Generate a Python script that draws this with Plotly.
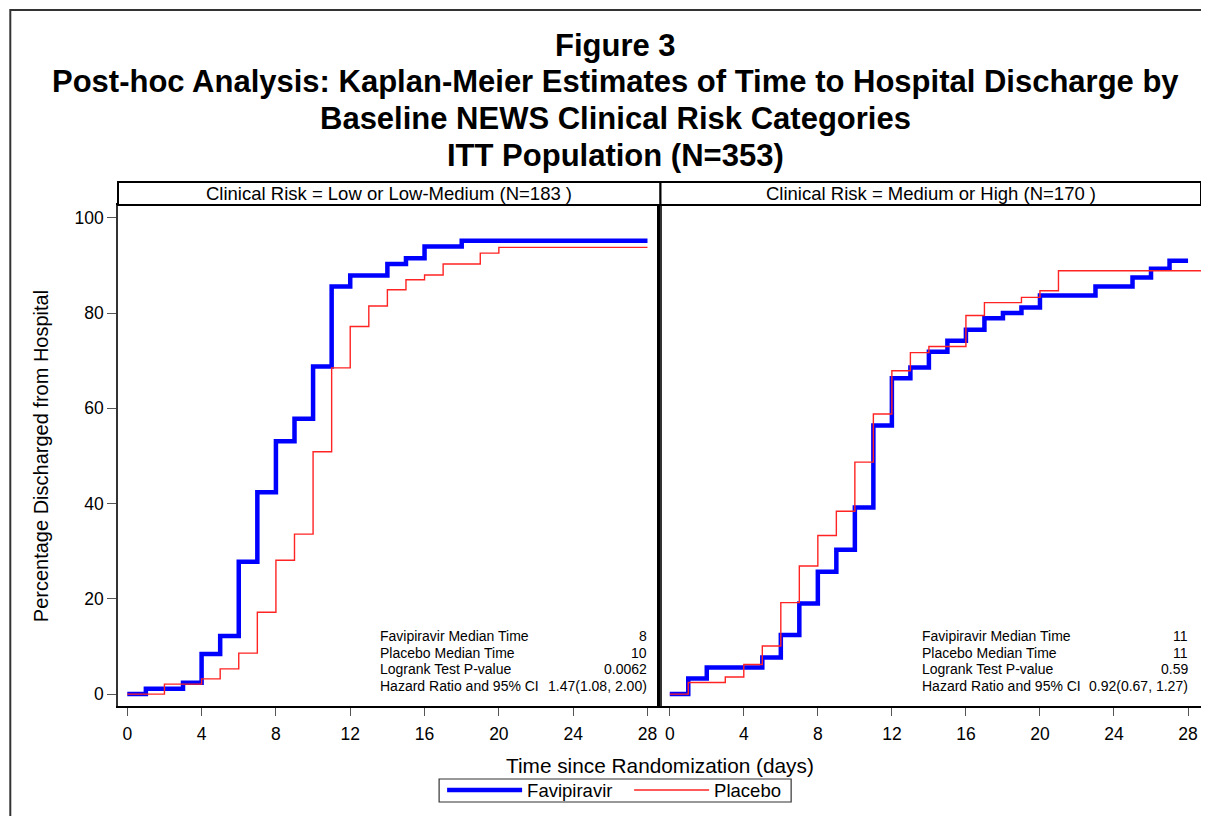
import plotly.graph_objects as go

# ---------------- data ----------------
panel_titles = ["Clinical Risk = Low or Low-Medium (N=183 )",
                "Clinical Risk = Medium or High (N=170 )"]
series_names = ["Favipiravir", "Placebo"]

# Left panel (Low or Low-Medium)
fav_low_t = [0, 1, 3, 4, 5, 6, 7, 8, 9, 10, 11, 12, 14, 15, 16, 18, 28]
fav_low_p = [0, 1.1, 2.4, 8.4, 12.2, 27.8, 42.4, 53.1, 57.8, 68.8, 85.6, 87.9, 90.3, 91.5, 94.0, 95.2, 95.2]
pla_low_t = [0, 2, 4, 5, 6, 7, 8, 9, 10, 11, 12, 13, 14, 15, 16, 17, 19, 20, 28]
pla_low_p = [0, 2.1, 3.2, 5.3, 8.6, 17.2, 28.1, 33.6, 50.9, 68.5, 77.2, 81.5, 84.9, 87.0, 88.0, 90.3, 92.6, 93.8, 93.8]

# Right panel (Medium or High)
fav_high_t = [0, 1, 2, 5, 6, 7, 8, 9, 10, 11, 12, 13, 14, 15, 16, 17, 18, 19, 20, 23, 25, 26, 27, 28]
fav_high_p = [0, 3.3, 5.6, 7.7, 12.4, 19.0, 25.7, 30.3, 39.2, 56.4, 66.3, 68.6, 71.9, 74.2, 76.5, 78.9,
              80.0, 81.2, 83.7, 85.6, 87.5, 89.3, 91.0, 91.0]
pla_high_t = [0, 1, 3, 4, 5, 6, 7, 8, 9, 10, 11, 12, 13, 14, 16, 17, 19, 20, 21, 29]
pla_high_p = [0, 2.45, 3.6, 6.2, 10.1, 19.2, 26.9, 33.3, 38.4, 48.7, 58.8, 67.9, 71.7, 73.0, 79.5, 82.2,
              83.3, 84.7, 88.9, 88.9]

stat_labels = ["Favipiravir Median Time", "Placebo Median Time",
               "Logrank Test P-value", "Hazard Ratio and 95% CI"]
stat_values_low = ["8", "10", "0.0062", "1.47(1.08, 2.00)"]
stat_values_high = ["11", "11", "0.59", "0.92(0.67, 1.27)"]

x_ticks = [0, 4, 8, 12, 16, 20, 24, 28]
y_ticks = [0, 20, 40, 60, 80, 100]

title_lines = ["Figure 3",
               "Post-hoc Analysis: Kaplan-Meier Estimates of Time to Hospital Discharge by",
               "Baseline NEWS Clinical Risk Categories",
               "ITT Population (N=353)"]

# ---------------- styling / layout ----------------
FONT = "Liberation Sans, Arial, sans-serif"
BLUE = "#0000FF"
RED = "rgb(255,35,35)"
PAGE_W, PAGE_H = 1209, 816
OFF = 8                                 # default body margin of the html page
W, H = PAGE_W - OFF, PAGE_H - OFF
L, R, T, B = 118, 1204, 205, 706       # plot area in page pixels
PW, PH = R - L, B - T


def px_x(px):
    return (px - L) / PW


def px_y(py):
    return (B - py) / PH


split = px_x(662)

fig = go.Figure()

panels = [
    ("x", "y", fav_low_t, fav_low_p, pla_low_t, pla_low_p, True),
    ("x2", "y2", fav_high_t, fav_high_p, pla_high_t, pla_high_p, False),
]
for xa, ya, ft, fp, pt, pp, show in panels:
    fig.add_trace(go.Scatter(x=ft, y=fp, mode="lines", line_shape="hv",
                             line=dict(color=BLUE, width=4.5), name=series_names[0],
                             xaxis=xa, yaxis=ya, showlegend=show, legendgroup="f"))
    fig.add_trace(go.Scatter(x=pt, y=pp, mode="lines", line_shape="hv",
                             line=dict(color=RED, width=1.4), name=series_names[1],
                             xaxis=xa, yaxis=ya, showlegend=show, legendgroup="p"))

xr = [-0.5, 28.7]
yr = [-2.5, 102.7]
axis_common = dict(showgrid=False, zeroline=False, showline=True, mirror=True,
                   linecolor="black", linewidth=2)
xaxis_common = dict(axis_common, range=xr, tickmode="array", tickvals=x_ticks,
                    ticks="outside", ticklen=8, tickcolor="#555", tickwidth=1,
                    ticklabelstandoff=3,
                    tickfont=dict(family=FONT, size=17.5, color="black"))

fig.update_layout(
    width=W, height=H,
    margin=dict(l=L - OFF, r=PAGE_W - R, t=T - OFF, b=PAGE_H - B),
    paper_bgcolor="white", plot_bgcolor="white",
    font=dict(family=FONT, color="black"),
    xaxis=dict(xaxis_common, domain=[0, split], anchor="y"),
    xaxis2=dict(xaxis_common, domain=[split, 1], anchor="y2"),
    yaxis=dict(axis_common, range=yr, tickmode="array", tickvals=y_ticks,
               ticks="outside", ticklen=9, tickcolor="#555", tickwidth=1,
               linewidth=1.5, linecolor="#333",
               tickfont=dict(family=FONT, size=17.5, color="black"), anchor="x"),
    yaxis2=dict(axis_common, range=yr, showticklabels=False, ticks="",
                linewidth=2.5, anchor="x2", matches="y"),
    showlegend=True,
    legend=dict(orientation="h", x=px_x(443), xanchor="left", y=px_y(790.5), yanchor="middle",
                borderwidth=0, bgcolor="rgba(0,0,0,0)",
                font=dict(family=FONT, size=18.5, color="black"),
                entrywidth=97, itemwidth=75, tracegroupgap=0),
)

shapes = []
# outer border (clipped by page edges on right/bottom)
shapes.append(dict(type="rect", xref="paper", yref="paper",
                   x0=px_x(10), x1=px_x(1225), y0=px_y(830), y1=px_y(10),
                   line=dict(color="#333", width=2), layer="below"))
# panel header boxes
for x0, x1 in [(0, split), (split, 1)]:
    shapes.append(dict(type="rect", xref="paper", yref="paper",
                       x0=x0, x1=x1, y0=1, y1=px_y(182),
                       line=dict(color="black", width=2), fillcolor="white"))
# legend frame
shapes.append(dict(type="rect", xref="paper", yref="paper",
                   x0=px_x(440), x1=px_x(793), y0=px_y(802), y1=px_y(779),
                   line=dict(color="#333", width=1.2), fillcolor="white", layer="below"))
fig.update_layout(shapes=shapes)

ann = []
for i, line in enumerate(title_lines):
    ann.append(dict(text="<b>%s</b>" % line, xref="paper", yref="paper",
                    x=px_x(617), y=px_y(45 + i * 36.7), xanchor="center", yanchor="middle",
                    showarrow=False, font=dict(family=FONT, size=31, color="black")))
for (x0, x1), t in zip([(0, split), (split, 1)], panel_titles):
    ann.append(dict(text=t, xref="paper", yref="paper", x=(x0 + x1) / 2, y=px_y(193.5),
                    xanchor="center", yanchor="middle", showarrow=False,
                    font=dict(family=FONT, size=18.5, color="black")))
# axis titles
ann.append(dict(text="Percentage Discharged from Hospital", xref="paper", yref="paper",
                x=px_x(41), y=px_y(456), textangle=-90, xanchor="center", yanchor="middle",
                showarrow=False, font=dict(family=FONT, size=20, color="black")))
ann.append(dict(text="Time since Randomization (days)", xref="paper", yref="paper",
                x=split, y=px_y(765), xanchor="center", yanchor="middle",
                showarrow=False, font=dict(family=FONT, size=20.8, color="black")))
# statistics inset
stat_y = [12.2, 8.7, 5.2, 1.7]
for xa, ya, vals in [("x", "y", stat_values_low), ("x2", "y2", stat_values_high)]:
    for lab, val, yy in zip(stat_labels, vals, stat_y):
        ann.append(dict(text=lab, xref=xa, yref=ya, x=13.5, y=yy, xanchor="left",
                        yanchor="middle", showarrow=False,
                        font=dict(family=FONT, size=14, color="black")))
        ann.append(dict(text=val, xref=xa, yref=ya, x=28.1, y=yy, xanchor="right",
                        yanchor="middle", showarrow=False,
                        font=dict(family=FONT, size=14, color="black")))
fig.update_layout(annotations=ann)

fig.write_html("out.html", config={"displayModeBar": False})
